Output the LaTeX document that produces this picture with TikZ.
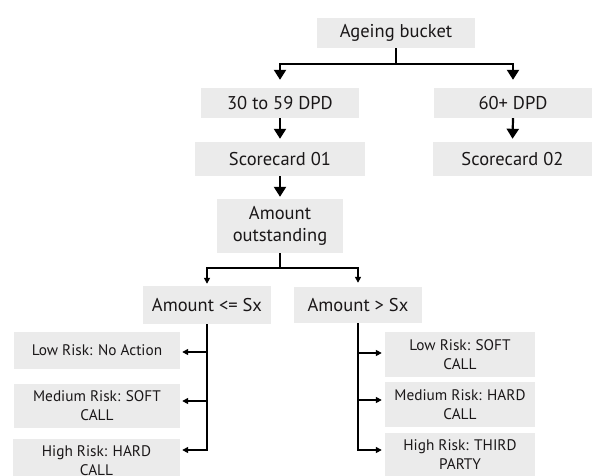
\documentclass[tikz,border=0pt]{standalone}
\usepackage{fontspec}
\setmainfont{PT Sans}
\usetikzlibrary{arrows.meta}
\definecolor{boxgray}{HTML}{EBEBEB}
\definecolor{ink}{HTML}{1A1718}
\tikzset{
  box/.style={fill=boxgray, inner sep=0pt, align=center, text=ink, font=\fontsize{18.5}{21.5}\selectfont},
  sbox/.style={fill=boxgray, inner sep=0pt, align=center, text=ink, font=\fontsize{15.3}{19}\selectfont},
  link/.style={line width=2.2pt, draw=black},
  big/.style={link, -{Triangle[length=10pt,width=12pt]}},
  small/.style={link, -{Triangle[length=6pt,width=6pt]}}
}
\begin{document}
\begin{tikzpicture}[x=1pt,y=-1pt]
\useasboundingbox (0,0) rectangle (592,476);
\clip (0,0) rectangle (592,476);
\node[box, minimum width=158pt, minimum height=30pt] (age) at (396,33) {Ageing bucket};
\node[box, minimum width=158pt, minimum height=30pt] (d30) at (280,103) {30 to 59 DPD};
\node[box, minimum width=158pt, minimum height=30pt] (d60) at (513,103) {60+ DPD};
\node[box, minimum width=170pt, minimum height=34pt] (sc1) at (280,159) {Scorecard 01};
\node[box, minimum width=159pt, minimum height=34pt] (sc2) at (512.5,159) {Scorecard 02};
\node[box, minimum width=126pt, minimum height=54pt] (amt) at (280,226) {Amount\\outstanding};
\node[box, minimum width=128pt, minimum height=38pt] (le) at (207,305) {Amount <= Sx};
\node[box, minimum width=128pt, minimum height=36pt] (gt) at (358,305) {Amount > Sx};
\node[sbox, minimum width=166pt, minimum height=37pt] (l1) at (97,350.5) {Low Risk: No Action};
\node[sbox, minimum width=166pt, minimum height=44pt] (l2) at (97,406) {Medium Risk: SOFT\\CALL};
\node[sbox, minimum width=167pt, minimum height=44pt] (l3) at (96.5,461) {High Risk: HARD\\CALL};
\node[sbox, minimum width=150pt, minimum height=45pt] (r1) at (460,354.5) {Low Risk: SOFT\\CALL};
\node[sbox, minimum width=150pt, minimum height=45pt] (r2) at (460,404.5) {Medium Risk: HARD\\CALL};
\node[sbox, minimum width=150pt, minimum height=43pt] (r3) at (460,454.5) {High Risk: THIRD\\PARTY};
% top
\coordinate (j1) at (396,64);
\draw[link] (age.south) -- (j1);
\draw[big, shorten >=8pt] (j1) -| (d30.north);
\draw[big, shorten >=8pt] (j1) -| (d60.north);
\draw[big, shorten >=3pt] (d30.south) -- (sc1.north);
\draw[big, shorten >=3pt] (d60.south) -- (sc2.north);
\draw[big, shorten >=2pt] (sc1.south) -- (amt.north);
% amount split
\coordinate (j2) at (280,268);
\draw[link] (amt.south) -- (j2);
\draw[small, shorten >=2pt] (j2) -| (le.north);
\draw[small, shorten >=4pt] (j2) -| (gt.north);
% left branch
\path ([yshift=-1.5pt]l1.east) coordinate (l1e)
      ([yshift=5pt]l2.east) coordinate (l2e)
      ([yshift=11pt]l3.east) coordinate (l3e);
\draw[small, shorten >=2pt] (le.south) |- (l3e);
\draw[small, shorten >=2pt] (le.south |- l1e) -- (l1e);
\draw[small, shorten >=2pt] (le.south |- l2e) -- (l2e);
% right branch
\path ([yshift=1.5pt]r1.west) coordinate (r1w)
      ([yshift=4.5pt]r2.west) coordinate (r2w)
      ([yshift=4.5pt]r3.west) coordinate (r3w);
\draw[small, shorten >=3pt] (gt.south) |- (r3w);
\draw[small, shorten >=3pt] (gt.south |- r1w) -- (r1w);
\draw[small, shorten >=3pt] (gt.south |- r2w) -- (r2w);
\end{tikzpicture}
\end{document}
